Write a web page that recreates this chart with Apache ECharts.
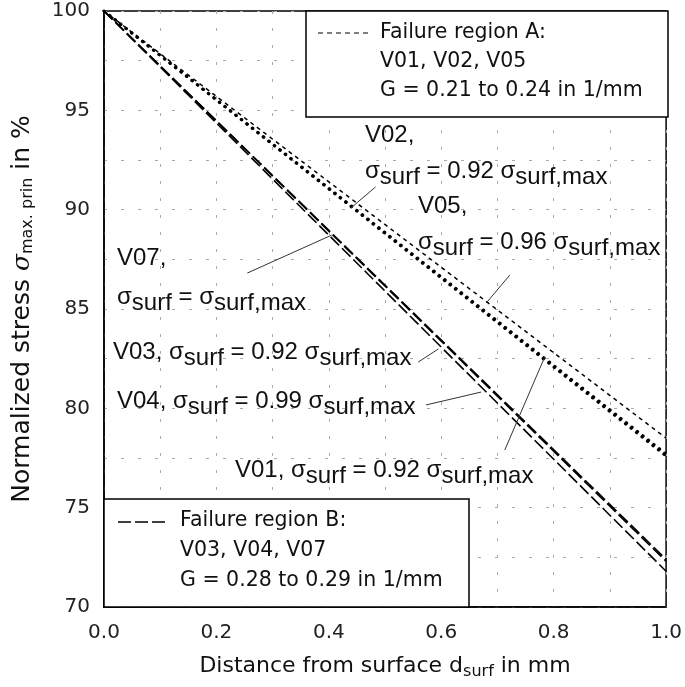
<!DOCTYPE html>
<html>
<head>
<meta charset="utf-8">
<script src="https://cdn.jsdelivr.net/npm/echarts@6/dist/echarts.min.js"></script>
<style>
html,body{margin:0;padding:0;background:#fff;}
#c{width:685px;height:687px;}
</style>
</head>
<body>
<div id="c"></div>
<script>
// ---- data ----
const distance = [0, 1];              // mm
const stressV05 = [100, 78.5];        // failure region A
const stressV02 = [100, 77.7];
const stressV01 = [100, 77.6];
const stressV07 = [100, 72.4];        // failure region B
const stressV03 = [100, 72.3];
const stressV04 = [100, 71.8];
const xTicks = [0, 0.2, 0.4, 0.6, 0.8, 1.0];
const yTicks = [70, 75, 80, 85, 90, 95, 100];

// annotation leader lines in data coordinates [from, to]
const leaderV02 = [[0.483, 91.14], [0.439, 90.08]];
const leaderV05 = [[0.722, 86.71], [0.680, 85.30]];
const leaderV07 = [[0.255, 86.81], [0.405, 88.72]];
const leaderV03 = [[0.559, 82.33], [0.595, 82.99]];
const leaderV04 = [[0.573, 80.17], [0.671, 80.82]];
const leaderV01 = [[0.713, 77.90], [0.784, 82.58]];

function pairs(xs, ys) { return xs.map((x, i) => [x, ys[i]]); }

const chart = echarts.init(document.getElementById('c'), null, {renderer: 'canvas'});

const dashA = {color: '#000', width: 1.5, type: [4, 4]};
const dotA = {color: '#000', width: 3, type: [0.5, 6.5], cap: 'round'};
const dashB = {color: '#000', width: 1.6, type: [12, 4]};

function lineSeries(name, ys, style) {
  return {name: name, type: 'line', data: pairs(distance, ys), symbol: 'none',
          lineStyle: style, silent: true, animation: false, z: 3};
}

const tickFont = 'DejaVu Sans';
const textFont = 'DejaVu Sans';
const annFont = 'Liberation Sans';

chart.setOption({
  animation: false,
  backgroundColor: '#fff',
  grid: {left: 104, right: 16, top: 11, bottom: 80, show: true, borderColor: '#000', borderWidth: 1.5, backgroundColor: 'transparent'},
  xAxis: {
    type: 'value', min: 0, max: 1, interval: 0.1,
    axisLine: {lineStyle: {color: '#000', width: 1.5}},
    axisTick: {show: false},
    axisLabel: {color: '#222', fontFamily: tickFont, fontSize: 20, margin: 16,
      formatter: v => xTicks.some(t => Math.abs(t - v) < 1e-6) ? v.toFixed(1) : ''},
    splitLine: {show: true, lineStyle: {color: '#aaa', width: 1, type: [3, 14]}},
    name: 'Distance from surface d{sub|surf} in mm',
    nameLocation: 'middle', nameGap: 45,
    nameTextStyle: {color: '#111', fontFamily: textFont, fontSize: 22,
      rich: {sub: {fontFamily: textFont, fontSize: 16, color: '#111', padding: [12, 0, 0, 0]}}}
  },
  yAxis: {
    type: 'value', min: 70, max: 100, interval: 2.5,
    axisLine: {lineStyle: {color: '#000', width: 1.5}},
    axisTick: {show: false},
    axisLabel: {color: '#222', fontFamily: tickFont, fontSize: 20, margin: 14,
      formatter: v => yTicks.indexOf(v) >= 0 ? String(v) : ''},
    splitLine: {show: true, lineStyle: {color: '#aaa', width: 1, type: [3, 14]}},
    name: 'Normalized stress {it|σ}{sub|max. prin} in %',
    nameLocation: 'middle', nameGap: 68, nameRotate: 90,
    nameTextStyle: {color: '#111', fontFamily: textFont, fontSize: 25,
      rich: {it: {fontFamily: 'DejaVu Serif', fontStyle: 'italic', fontSize: 25, color: '#111'},
             sub: {fontFamily: textFont, fontSize: 16, color: '#111', padding: [12, 0, 0, 0]}}}
  },
  series: [
    lineSeries('V05', stressV05, dashA),
    lineSeries('V02', stressV02, dotA),
    lineSeries('V01', stressV01, dotA),
    lineSeries('V07', stressV07, dashB),
    lineSeries('V03', stressV03, dashB),
    lineSeries('V04', stressV04, dashB)
  ]
});

// ---- annotations ----
const toPx = p => chart.convertToPixel({gridIndex: 0}, p);
const annRich = {
  n: {fontFamily: annFont, fontSize: 24, color: '#111'},
  s: {fontFamily: annFont, fontSize: 24, color: '#111', padding: [12, 0, 0, 0]}
};
function annText(x, y, str) {
  return {type: 'text', x: x, y: y, z: 20, silent: true,
    style: {text: str, rich: annRich, fill: '#111', font: '24px ' + annFont,
            align: 'left', verticalAlign: 'middle'}};
}
function leader(seg) {
  const a = toPx(seg[0]), b = toPx(seg[1]);
  return {type: 'line', z: 19, silent: true,
    shape: {x1: a[0], y1: a[1], x2: b[0], y2: b[1]},
    style: {stroke: '#333', lineWidth: 1}};
}
const legFont = '20.5px ' + textFont;
function legText(x, y, s) {
  return {type: 'text', x: x, y: y, z: 31, silent: true,
    style: {text: s, font: legFont, fill: '#111', align: 'left', verticalAlign: 'middle'}};
}

chart.setOption({
  graphic: [
    // legend box A
    {type: 'rect', z: 30, silent: true, shape: {x: 306, y: 11, width: 362, height: 106},
     style: {fill: '#fff', stroke: '#000', lineWidth: 1.5}},
    {type: 'line', z: 31, silent: true, shape: {x1: 318, y1: 33, x2: 368, y2: 33},
     style: {stroke: '#000', lineWidth: 1.2, lineDash: [5, 4]}},
    legText(380, 33, 'Failure region A:'),
    legText(380, 62, 'V01, V02, V05'),
    legText(380, 91, 'G = 0.21 to 0.24 in 1/mm'),
    // legend box B
    {type: 'rect', z: 30, silent: true, shape: {x: 104, y: 499, width: 365, height: 108},
     style: {fill: '#fff', stroke: '#000', lineWidth: 1.5}},
    {type: 'line', z: 31, silent: true, shape: {x1: 118, y1: 522, x2: 168, y2: 522},
     style: {stroke: '#000', lineWidth: 1.4, lineDash: [13, 4]}},
    legText(180, 521, 'Failure region B:'),
    legText(180, 551, 'V03, V04, V07'),
    legText(180, 581, 'G = 0.28 to 0.29 in 1/mm'),
    // annotations
    annText(365, 135, '{n|V02,}'),
    annText(365, 171, '{n|σ}{s|surf}{n| = 0.92 σ}{s|surf,max}'),
    annText(418, 206, '{n|V05,}'),
    annText(418, 242, '{n|σ}{s|surf}{n| = 0.96 σ}{s|surf,max}'),
    annText(117, 258, '{n|V07,}'),
    annText(117, 297, '{n|σ}{s|surf}{n| = σ}{s|surf,max}'),
    annText(113, 352, '{n|V03, σ}{s|surf}{n| = 0.92 σ}{s|surf,max}'),
    annText(117, 401, '{n|V04, σ}{s|surf}{n| = 0.99 σ}{s|surf,max}'),
    annText(235, 470, '{n|V01, σ}{s|surf}{n| = 0.92 σ}{s|surf,max}'),
    leader(leaderV02), leader(leaderV05), leader(leaderV07),
    leader(leaderV03), leader(leaderV04), leader(leaderV01)
  ]
});
</script>
</body>
</html>
